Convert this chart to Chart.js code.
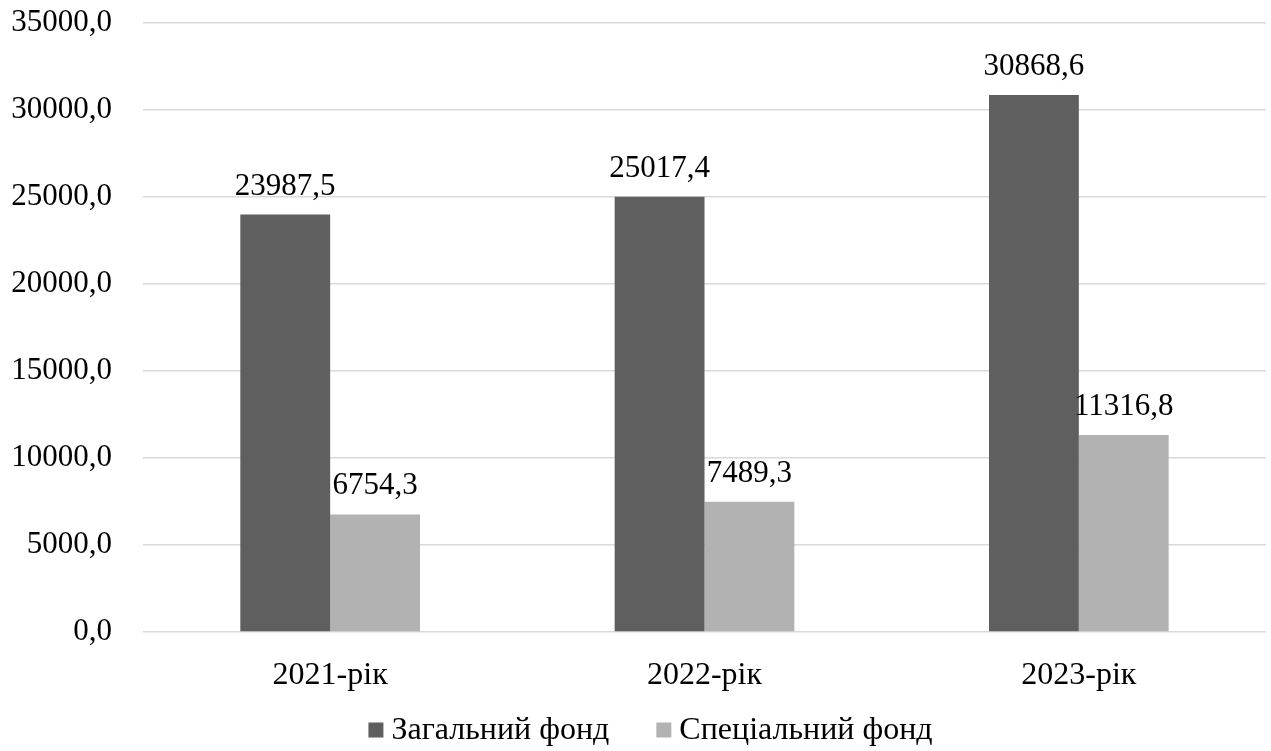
<!DOCTYPE html>
<html lang="uk">
  <head>
    <meta charset="UTF-8" />
    <title>Фонди</title>
    <script src="https://cdn.jsdelivr.net/npm/chart.js"></script>
    <style>
      html, body { margin: 0; padding: 0; background: #fff; }
      #wrap { width: 1271px; height: 751px; }
    </style>
  </head>
  <body>
    <div id="wrap"><canvas id="fundChart"></canvas></div>

    <script>
      // дані діаграми
      const years = ["2021-рік", "2022-рік", "2023-рік"];
      const generalFund = [23987.5, 25017.4, 30868.6];
      const specialFund = [6754.3, 7489.3, 11316.8];
      const seriesNames = ["Загальний фонд", "Спеціальний фонд"];
      const yTicks = [0, 5000, 10000, 15000, 20000, 25000, 30000, 35000];

      const serif = "'Liberation Serif', 'Times New Roman', serif";
      const fmt = (v) => v.toFixed(1).replace(".", ",");

      // підписи значень над стовпцями
      const valueLabels = {
        id: "valueLabels",
        afterDatasetsDraw(chart) {
          const ctx = chart.ctx;
          ctx.save();
          ctx.font = "31px " + serif;
          ctx.fillStyle = "#000";
          ctx.textAlign = "center";
          ctx.textBaseline = "alphabetic";
          chart.data.datasets.forEach((ds, i) => {
            chart.getDatasetMeta(i).data.forEach((bar, j) => {
              ctx.fillText(fmt(ds.data[j]), bar.x, bar.y - 20);
            });
          });
          ctx.restore();
        },
      };

      // легенда під графіком: квадрат + назва ряду
      const bottomLegend = {
        id: "bottomLegend",
        afterDraw(chart) {
          const ctx = chart.ctx;
          const box = 15, gap = 8, between = 47;
          const y = chart.height - 21;
          ctx.save();
          ctx.font = "32px " + serif;
          const items = chart.data.datasets.map((ds) => ({
            text: ds.label,
            color: ds.backgroundColor,
            w: ctx.measureText(ds.label).width,
          }));
          let total = items.reduce((s, it) => s + box + gap + it.w, 0) + between * (items.length - 1);
          let x = chart.width / 2 + 15 - total / 2;
          ctx.textBaseline = "middle";
          ctx.textAlign = "left";
          items.forEach((it) => {
            ctx.fillStyle = it.color;
            ctx.fillRect(x, y - box / 2, box, box);
            x += box + gap;
            ctx.fillStyle = "#000";
            ctx.fillText(it.text, x, y + 1);
            x += it.w + between;
          });
          ctx.restore();
        },
      };

      const ctx = document.getElementById("fundChart").getContext("2d");
      new Chart(ctx, {
        type: "bar",
        data: {
          labels: years,
          datasets: [
            { label: seriesNames[0], data: generalFund, backgroundColor: "#5f5f5f" },
            { label: seriesNames[1], data: specialFund, backgroundColor: "#b2b2b2" },
          ],
        },
        options: {
          responsive: true,
          maintainAspectRatio: false,
          animation: false,
          layout: { padding: { top: 23, right: 5, bottom: 0, left: 0 } },
          datasets: { bar: { barPercentage: 1, categoryPercentage: 0.48 } },
          scales: {
            x: {
              grid: { display: false },
              border: { display: false },
              ticks: { color: "#000", font: { family: serif, size: 32 }, padding: 16 },
              // місце під підписи осі та легенду
              afterFit(scale) { scale.height = 119; },
            },
            y: {
              min: 0,
              max: 35000,
              afterBuildTicks(scale) { scale.ticks = yTicks.map((v) => ({ value: v })); },
              grid: { color: "#d9d9d9", lineWidth: 1.5, drawTicks: false },
              border: { display: false },
              ticks: {
                color: "#000",
                font: { family: serif, size: 31 },
                padding: 31,
                callback: (v) => fmt(v),
              },
              afterFit(scale) {
                scale.width = 143;
                scale.paddingTop = 0;
                scale.paddingBottom = 0;
              },
            },
          },
          plugins: {
            tooltip: { enabled: false },
            legend: { display: false },
          },
        },
        plugins: [valueLabels, bottomLegend],
      });
    </script>
  </body>
</html>
